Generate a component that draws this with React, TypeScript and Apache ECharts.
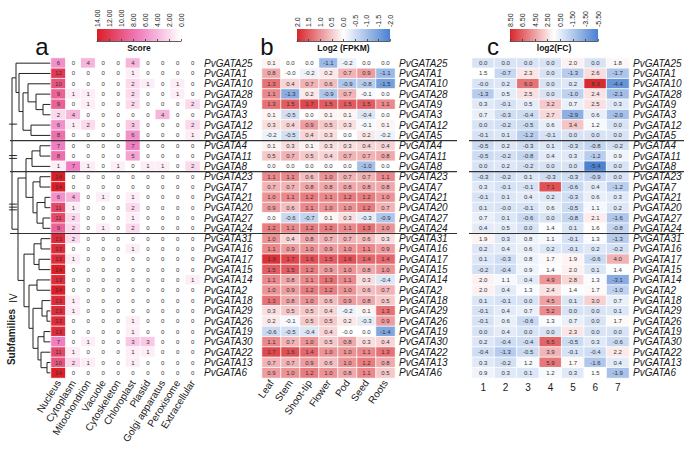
import React, { useEffect, useRef } from 'react';
import * as echarts from 'echarts';

const genes = ['PvGATA25','PvGATA1','PvGATA10','PvGATA28','PvGATA9','PvGATA3','PvGATA12','PvGATA5','PvGATA4','PvGATA11','PvGATA8','PvGATA23','PvGATA7','PvGATA21','PvGATA20','PvGATA27','PvGATA24','PvGATA31','PvGATA16','PvGATA17','PvGATA15','PvGATA14','PvGATA2','PvGATA18','PvGATA29','PvGATA26','PvGATA19','PvGATA30','PvGATA22','PvGATA13','PvGATA6'];
const locations = ['Nucleus','Cytoplasm','Mitochondrion','Vacuole','Cytoskeleton','Chloroplast','Plastid','Golgi apparatus','Peroxisome','Extracellular'];
const tissues = ['Leaf','Stem','Shoot-tip','Flower','Pod','Seed','Roots'];
const treatments = ['1','2','3','4','5','6','7'];

const scoreValues = [
  [6,0,4,0,0,4,0,0,0,0],[12,0,0,0,0,1,0,0,0,0],[10,0,0,0,0,2,1,0,1,0],[9,1,1,0,0,2,0,0,1,0],
  [9,0,1,0,0,2,0,0,0,2],[2,4,0,0,0,0,0,4,0,0],[6,1,2,0,0,3,0,0,0,2],[8,0,0,0,0,6,0,0,0,1],
  [7,0,0,0,0,7,0,0,0,0],[8,0,0,0,0,5,0,0,0,0],[1,7,1,0,1,0,1,1,0,2],
  [14,0,0,0,0,0,0,0,0,0],[14,0,0,0,0,0,0,0,0,0],[6,4,0,1,0,1,0,0,0,0],[11,1,0,0,0,2,0,0,0,0],
  [11,2,0,0,0,1,0,0,0,0],[9,2,0,1,0,2,0,0,0,0],
  [13,2,0,0,0,0,0,0,0,0],[13,0,0,0,0,1,0,0,0,0],[13,1,0,0,0,0,0,0,0,0],[14,0,0,0,0,0,0,0,0,0],
  [13,0,0,0,0,0,0,0,0,1],[14,0,0,0,0,0,0,0,0,0],[13,1,0,0,0,0,0,0,0,0],[13,1,0,0,0,0,0,0,0,0],
  [13,0,0,0,0,1,0,0,0,0],[13,0,0,0,0,1,0,0,0,0],[7,0,1,0,0,3,3,0,0,0],[11,1,0,0,0,1,1,0,0,0],
  [10,2,1,0,0,1,0,0,0,0],[14,0,0,0,0,0,0,0,0,0]
];
const fpkmValues = [
  [0.1,0.0,0.0,-1.1,-0.2,0.0,0.0],[0.8,-0.0,-0.2,0.2,0.7,0.9,-1.1],[1.3,0.4,0.7,0.6,-0.9,-0.8,-1.5],
  [1.1,-1.3,0.2,-0.9,0.7,-0.1,0.0],[1.3,1.5,1.7,1.5,1.5,1.5,1.1],[0.1,-0.5,0.0,0.1,0.1,-0.4,0.0],
  [0.3,0.4,0.9,0.5,0.3,-0.1,0.1],[-0.2,-0.5,0.4,0.3,0.0,0.2,-0.2],[0.1,0.3,0.1,0.3,0.3,0.4,0.4],
  [0.5,0.7,0.5,0.4,0.7,0.7,0.8],[0.0,0.0,0.0,0.0,0.0,-1.0,0.0],[1.1,1.1,0.6,1.0,0.7,0.7,1.1],
  [0.7,0.7,0.8,0.8,0.8,0.8,0.8],[1.0,1.1,1.2,1.1,1.2,1.2,1.0],[0.9,0.6,1.1,1.0,1.0,1.2,0.7],
  [0.0,-0.6,-0.7,0.1,0.3,-0.3,-0.9],[1.2,1.1,1.2,1.2,1.1,1.3,1.0],[1.0,0.4,0.8,0.7,0.7,0.6,0.3],
  [1.1,0.9,1.0,0.9,1.0,1.1,0.9],[1.9,1.7,1.6,1.5,1.6,1.4,1.4],[1.5,1.5,1.2,0.9,1.0,0.8,1.0],
  [1.1,0.8,1.1,1.3,1.1,0.3,-0.4],[1.0,0.9,1.2,1.2,1.0,0.6,0.7],[1.3,0.8,1.0,0.6,0.9,0.8,0.5],
  [0.3,0.5,0.5,0.4,-0.2,0.1,1.3],[0.2,-0.1,0.5,0.5,0.2,-0.3,0.9],[-0.6,-0.5,-0.4,0.4,-0.0,0.0,-1.4],
  [1.1,0.7,1.0,0.5,0.8,0.3,0.4],[1.7,1.6,1.4,1.0,1.0,1.1,1.3],[0.7,0.7,0.9,0.6,1.0,1.2,0.8],
  [0.9,1.0,1.2,1.0,0.8,1.1,0.5]
];
const fcValues = [
  [0.0,0.0,0.0,0.0,2.0,0.0,1.8],[1.5,-0.7,2.3,0.0,-1.3,2.6,-1.7],[-0.0,0.2,6.0,0.0,0.2,8.3,-4.4],
  [-1.3,0.5,2.5,0.0,-1.0,2.4,-2.1],[0.3,-0.1,0.5,3.2,0.7,2.5,0.3],[0.7,-0.3,-0.4,2.7,-2.9,0.6,-2.0],
  [0.0,-0.2,-0.5,0.6,3.4,1.2,0.0],[-0.1,0.1,-1.2,-0.1,0.0,0.0,0.0],[-0.5,0.2,-0.3,0.1,-0.3,-0.8,-0.2],
  [-0.5,-0.2,-0.8,0.4,0.3,-1.2,0.9],[0.0,0.2,-0.2,0.0,0.0,-5.4,0.0],[-0.3,-0.2,0.1,-0.3,-0.3,-0.9,0.0],
  [0.3,-0.1,-0.1,7.1,-0.6,0.4,-1.2],[-0.1,0.1,0.4,0.2,-0.3,0.6,0.3],[0.1,-0.0,-0.1,0.6,-0.5,1.1,0.2],
  [0.7,0.1,-0.6,0.0,-0.8,2.1,-1.6],[0.4,0.5,0.0,1.4,0.1,1.6,-0.8],[1.9,0.3,0.8,1.1,-0.1,1.3,-1.3],
  [0.2,0.4,0.6,0.2,-0.1,0.2,-0.2],[0.1,-0.3,0.8,1.7,1.9,-0.6,4.0],[-0.2,-0.4,0.9,1.4,2.0,0.1,1.4],
  [2.0,1.1,0.4,4.9,2.8,1.3,-3.1],[2.0,0.4,1.3,2.4,1.4,1.7,-1.0],[0.1,-0.1,0.0,4.5,0.1,3.0,0.7],
  [-0.1,0.4,0.7,5.2,0.0,0.0,0.1],[-0.1,0.6,-0.6,1.3,0.7,0.0,1.7],[0.0,0.4,0.0,0.0,2.3,0.0,0.0],
  [0.2,-0.4,-0.4,6.5,-0.5,0.3,-0.6],[-0.4,-1.3,-0.5,3.9,-0.1,-0.4,2.2],[0.3,-0.2,1.2,5.9,1.7,-1.6,0.4],
  [0.9,0.3,0.1,1.2,0.3,1.5,-1.9]
];

const subfamilies = [
  { name: 'I', first: 0, last: 7 },
  { name: 'II', first: 8, last: 10 },
  { name: 'III', first: 11, last: 16 },
  { name: 'IV', first: 17, last: 30 },
];

// dendrogram topology (leaves = row indices, h = branch x position)
const tree: any = { h: 12, c: [
  { h: 16, c: [0, { h: 19, c: [1, { h: 23, c: [
    { h: 28, c: [2, { h: 36, c: [3, { h: 43, c: [4, 5] }] }] },
    { h: 31, c: [6, 7] },
  ] }] }] },
  { h: 18, c: [
    { h: 26, c: [
      { h: 32, c: [{ h: 40, c: [8, 9] }, 10] },
      { h: 33, c: [{ h: 40, c: [11, 12] }, { h: 37, c: [{ h: 45, c: [13, 14] }, { h: 43, c: [15, 16] }] }] },
    ] },
    { h: 24, c: [
      { h: 34, c: [{ h: 41, c: [17, 18] }, { h: 39, c: [19, 20] }] },
      { h: 29, c: [
        { h: 37, c: [21, 22] },
        { h: 33, c: [
          { h: 42, c: [23, { h: 47, c: [24, 25] }] },
          { h: 38, c: [{ h: 44, c: [26, 27] }, { h: 41, c: [28, { h: 47, c: [29, 30] }] }] },
        ] },
      ] },
    ] },
  ] },
] };

const FONT = 'Liberation Sans';
const TOP = 58;
const HEIGHT = 320;
const ROWH = HEIGHT / genes.length;
const GA = { left: 51, width: 149 };
const GB = { left: 262, width: 133 };
const GC = { left: 472, width: 157 };
const RED = '#d8262c';
const BLUE = '#4a80d2';

const fmt1 = (v: number) => (Object.is(v, -0) ? '-0.0' : v.toFixed(1));

function cells(vals: number[][]) {
  const out: any[] = [];
  vals.forEach((row, i) => row.forEach((v, j) => out.push([j, i, v])));
  return out;
}

export default function App() {
  const ref = useRef<HTMLDivElement>(null);
  useEffect(() => {
    const chart = echarts.init(ref.current!, null, { renderer: 'svg' });
    const rowY = (i: number) => TOP + (i + 0.5) * ROWH;
    const lineStyle = { stroke: '#222', lineWidth: 1 };
    const graphics: any[] = [];

    // dendrogram
    const leafX = GA.left;
    const walk = (node: any): { x: number; y: number } => {
      if (typeof node === 'number') return { x: leafX, y: rowY(node) };
      const kids = node.c.map(walk);
      const ys = kids.map((k: any) => k.y);
      const y0 = Math.min(...ys), y1 = Math.max(...ys);
      graphics.push({ type: 'line', shape: { x1: node.h, y1: y0, x2: node.h, y2: y1 }, style: lineStyle, silent: true });
      kids.forEach((k: any) => graphics.push({ type: 'line', shape: { x1: node.h, y1: k.y, x2: k.x, y2: k.y }, style: lineStyle, silent: true }));
      return { x: node.h, y: (y0 + y1) / 2 };
    };
    walk(tree);

    // subfamily separators and labels
    subfamilies.forEach((s, k) => {
      if (k < subfamilies.length - 1) {
        const y = TOP + (s.last + 1) * ROWH;
        graphics.push({ type: 'line', shape: { x1: 10, y1: y, x2: 457, y2: y }, style: { stroke: '#333', lineWidth: 1.2 }, silent: true, z: 10 });
        graphics.push({ type: 'line', shape: { x1: 469, y1: y, x2: 684, y2: y }, style: { stroke: '#333', lineWidth: 1.2 }, silent: true, z: 10 });
      }
    });
    const subLabelY = [124, 157, 207, 298];
    subfamilies.forEach((s, k) => {
      graphics.push({ type: 'text', x: 13, y: subLabelY[k], rotation: Math.PI / 2,
        style: { text: s.name, fontSize: 10, fontFamily: FONT, fill: '#222', align: 'center', verticalAlign: 'middle' } });
    });
    graphics.push({ type: 'text', x: 11, y: 337, rotation: Math.PI / 2,
      style: { text: 'Subfamilies', fontSize: 10, fontWeight: 'bold', fontFamily: FONT, fill: '#222', align: 'center', verticalAlign: 'middle' } });

    // panel letters
    [['a', 42], ['b', 267], ['c', 493]].forEach(([t, x]) => {
      graphics.push({ type: 'text', x: x as number, y: 46, style: { text: t as string, fontSize: 24, fontFamily: FONT, fill: '#111', align: 'center', verticalAlign: 'middle' } });
    });

    // colour bars
    const bars = [
      { left: 97, width: 84, title: 'Score', stops: [[0, '#dc1e26'], [0.5, '#f07ec0'], [1, '#ffffff']] },
      { left: 297, width: 93, title: 'Log2 (FPKM)', stops: [[0, RED], [0.5, '#ffffff'], [1, BLUE]] },
      { left: 510, width: 88, title: 'log2(FC)', stops: [[0, RED], [0.5, '#ffffff'], [1, BLUE]] },
    ];
    bars.forEach((b) => {
      graphics.push({ type: 'rect', shape: { x: b.left, y: 29, width: b.width, height: 12 },
        style: { fill: new echarts.graphic.LinearGradient(0, 0, 1, 0, b.stops.map(([o, c]) => ({ offset: o as number, color: c as string }))) } });
      graphics.push({ type: 'text', x: b.left + b.width / 2, y: 48, style: { text: b.title, fontSize: 8.5, fontWeight: 'bold', fontFamily: FONT, fill: '#111', align: 'center', verticalAlign: 'middle' } });
    });

    const hmGrid = (g: any) => ({ left: g.left, width: g.width, top: TOP, height: HEIGHT });
    const barGrid = (b: any) => ({ left: b.left, width: b.width, top: 29, height: 12 });
    const geneAxis = (gi: number) => ({
      type: 'category', data: genes, gridIndex: gi, inverse: true, position: 'right',
      axisLine: { show: false }, axisTick: { show: false },
      axisLabel: { fontSize: 10, fontStyle: 'italic', color: '#1a1a1a', margin: 4, interval: 0, fontFamily: FONT },
    });
    const barAxis = (gi: number, max: number, interval: number, fmt: (v: number) => string) => ({
      type: 'value', gridIndex: gi, position: 'top', min: 0, max, interval,
      axisLine: { show: true, lineStyle: { color: '#333', width: 0.8 } },
      axisTick: { show: true, length: 2, lineStyle: { color: '#333', width: 0.8 } },
      splitLine: { show: false },
      axisLabel: { rotate: 90, fontSize: 7, color: '#222', margin: 2, fontFamily: FONT, formatter: fmt },
    });
    const hiddenY = (gi: number) => ({ type: 'value', gridIndex: gi, show: false });

    const labelCfg = (f: (p: any) => string) => ({ show: true, fontSize: 6, color: '#333', fontFamily: FONT, formatter: f });

    const option: any = {
      animation: false,
      textStyle: { fontFamily: FONT },
      grid: [hmGrid(GA), hmGrid(GB), hmGrid(GC), barGrid(bars[0]), barGrid(bars[1]), barGrid(bars[2])],
      xAxis: [
        { type: 'category', data: locations, gridIndex: 0, axisLine: { show: false }, axisTick: { show: false },
          axisLabel: { rotate: 58, fontSize: 10, color: '#1a1a1a', interval: 0, margin: 3 } },
        { type: 'category', data: tissues, gridIndex: 1, axisLine: { show: false }, axisTick: { show: false },
          axisLabel: { rotate: 55, fontSize: 10, color: '#1a1a1a', interval: 0, margin: 3 } },
        { type: 'category', data: treatments, gridIndex: 2, axisLine: { show: false }, axisTick: { show: false },
          axisLabel: { fontSize: 10, color: '#1a1a1a', interval: 0, margin: 4 } },
        barAxis(3, 14, 2, (v) => (14 - v).toFixed(2)),
        barAxis(4, 4, 0.5, (v) => (2 - v).toFixed(1)),
        barAxis(5, 14, 2, (v) => (8.5 - v).toFixed(2)),
      ],
      yAxis: [geneAxis(0), geneAxis(1), geneAxis(2), hiddenY(3), hiddenY(4), hiddenY(5)],
      visualMap: [
        { type: 'continuous', show: false, seriesIndex: 0, min: 0, max: 14, inRange: { color: ['#ffffff', '#f07ec0', '#dc1e26'] } },
        { type: 'continuous', show: false, seriesIndex: 1, min: -2, max: 2, inRange: { color: [BLUE, '#ffffff', RED] } },
        { type: 'continuous', show: false, seriesIndex: 2, min: -5.5, max: 8.5, inRange: { color: [BLUE, '#ffffff', RED] } },
      ],
      series: [
        { type: 'heatmap', xAxisIndex: 0, yAxisIndex: 0, data: cells(scoreValues),
          itemStyle: { borderColor: '#fff', borderWidth: 0.8 }, emphasis: { disabled: true },
          label: labelCfg((p) => String(scoreValues[p.data[1]][p.data[0]])) },
        { type: 'heatmap', xAxisIndex: 1, yAxisIndex: 1, data: cells(fpkmValues),
          itemStyle: { borderColor: '#fff', borderWidth: 0.8 }, emphasis: { disabled: true },
          label: labelCfg((p) => fmt1(fpkmValues[p.data[1]][p.data[0]])) },
        { type: 'heatmap', xAxisIndex: 2, yAxisIndex: 2, data: cells(fcValues),
          itemStyle: { borderColor: '#fff', borderWidth: 0.8 }, emphasis: { disabled: true },
          label: labelCfg((p) => fmt1(fcValues[p.data[1]][p.data[0]])) },
      ],
      graphic: graphics,
    };
    chart.setOption(option);
    return () => chart.dispose();
  }, []);
  return <div ref={ref} style={{ position: 'fixed', left: 0, top: 0, width: 685, height: 455, background: '#fff' }} />;
}
